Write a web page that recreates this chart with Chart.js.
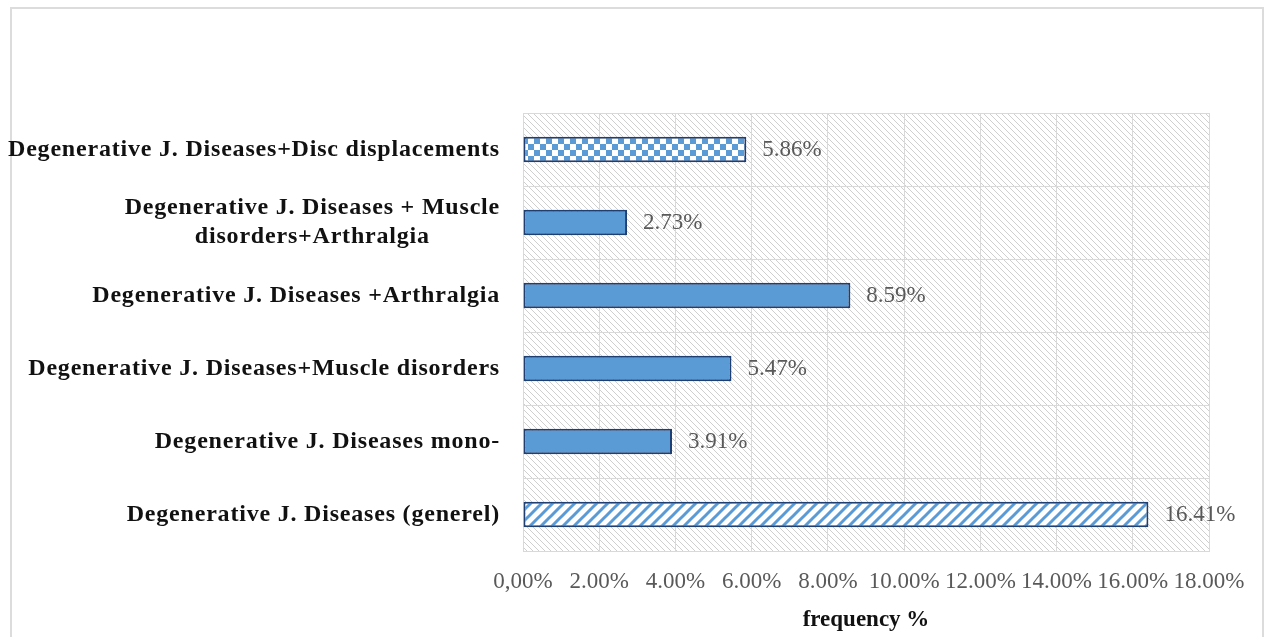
<!DOCTYPE html>
<html>
<head>
<meta charset="utf-8">
<script src="https://cdn.jsdelivr.net/npm/chart.js@4/dist/chart.umd.min.js"></script>
<style>
  html, body { margin: 0; padding: 0; background: #fff; }
  #wrap { width: 1267px; height: 637px; position: relative; }
</style>
</head>
<body>
<div id="wrap"><canvas id="c" width="1267" height="637"></canvas></div>
<script>
// Category labels (one entry per line of text)
const categories = [
  ['Degenerative J. Diseases+Disc displacements'],
  ['Degenerative J. Diseases + Muscle', 'disorders+Arthralgia'],
  ['Degenerative J. Diseases +Arthralgia'],
  ['Degenerative J. Diseases+Muscle disorders'],
  ['Degenerative J. Diseases mono-'],
  ['Degenerative J. Diseases (generel)']
];
// Frequency in percent
const frequencyValues = [5.86, 2.73, 8.59, 5.47, 3.91, 16.41];
const valueLabels = ['5.86%', '2.73%', '8.59%', '5.47%', '3.91%', '16.41%'];
// Fill kind per bar
const fillKinds = ['checker', 'solid', 'solid', 'solid', 'solid', 'stripes'];
// X axis tick labels
const tickLabels = ['0,00%', '2.00%', '4.00%', '6.00%', '8.00%', '10.00%', '12.00%', '14.00%', '16.00%', '18.00%'];
const axisTitle = 'frequency %';

const BLUE = '#5B9BD5';
const EDGE = '#1F3F73';
const GRID = '#d9d9d9';
const SERIF = "'Liberation Serif', 'Times New Roman', serif";

function makeTile(size, draw) {
  const c = document.createElement('canvas');
  c.width = c.height = size;
  draw(c.getContext('2d'), size);
  return c;
}

const canvas = document.getElementById('c');
const ctx = canvas.getContext('2d');

const checkerPattern = ctx.createPattern(makeTile(12, (g, s) => {
  g.fillStyle = '#fff'; g.fillRect(0, 0, s, s);
  g.fillStyle = BLUE; g.fillRect(0, 0, s / 2, s / 2); g.fillRect(s / 2, s / 2, s / 2, s / 2);
}), 'repeat');

const stripePattern = ctx.createPattern(makeTile(11, (g, s) => {
  g.fillStyle = '#fff'; g.fillRect(0, 0, s, s);
  g.strokeStyle = BLUE; g.lineWidth = 3;
  g.beginPath();
  g.moveTo(-3, s + 3); g.lineTo(s + 3, -3);
  g.moveTo(-3, 3); g.lineTo(3, -3);
  g.moveTo(s - 3, s + 3); g.lineTo(s + 3, s - 3);
  g.stroke();
}), 'repeat');

const hatchPattern = ctx.createPattern(makeTile(6, (g, s) => {
  g.fillStyle = '#fff'; g.fillRect(0, 0, s, s);
  g.strokeStyle = '#cfcfcf'; g.lineWidth = 1;
  g.beginPath();
  g.moveTo(-2, -2); g.lineTo(s + 2, s + 2);
  g.moveTo(-2, s - 2); g.lineTo(2, s + 2);
  g.moveTo(s - 2, -2); g.lineTo(s + 2, 2);
  g.stroke();
}), 'repeat');

const fills = fillKinds.map(k => k === 'checker' ? checkerPattern : k === 'stripes' ? stripePattern : BLUE);

// Frame around the figure and hatched plot background
const backgroundPlugin = {
  id: 'backgroundPlugin',
  beforeDraw(chart) {
    const c = chart.ctx, a = chart.chartArea;
    c.save();
    c.fillStyle = '#fff';
    c.fillRect(0, 0, chart.width, chart.height);
    c.strokeStyle = '#dcdcdc';
    c.lineWidth = 2;
    c.strokeRect(11, 8, 1252, 640);
    c.fillStyle = hatchPattern;
    c.fillRect(a.left, a.top, a.right - a.left, a.bottom - a.top);
    c.restore();
  }
};

// Category names left of the plot, value text after each bar
const textPlugin = {
  id: 'textPlugin',
  afterDatasetsDraw(chart) {
    const c = chart.ctx;
    const yScale = chart.scales.y;
    const meta = chart.getDatasetMeta(0);
    c.save();
    if ('letterSpacing' in c) c.letterSpacing = '0.8px';
    c.font = 'bold 24px ' + SERIF;
    c.fillStyle = '#111';
    c.textBaseline = 'middle';
    const rightX = 500;
    const lineH = 29;
    categories.forEach((lines, i) => {
      const yc = yScale.getPixelForValue(i);
      if (lines.length === 1) {
        c.textAlign = 'right';
        c.fillText(lines[0], rightX, yc);
      } else {
        const maxW = Math.max(...lines.map(l => c.measureText(l).width));
        const cx = rightX - maxW / 2;
        c.textAlign = 'center';
        lines.forEach((l, j) => {
          c.fillText(l, cx, yc + (j - (lines.length - 1) / 2) * lineH);
        });
      }
    });
    if ('letterSpacing' in c) c.letterSpacing = '0px';
    c.font = '23px ' + SERIF;
    c.fillStyle = '#595959';
    c.textAlign = 'left';
    meta.data.forEach((bar, i) => {
      c.fillText(valueLabels[i], bar.x + 16, bar.y);
    });
    c.restore();
  }
};

new Chart(canvas, {
  type: 'bar',
  data: {
    labels: categories.map(l => l.join(' ')),
    datasets: [{
      data: frequencyValues,
      backgroundColor: fills,
      borderColor: EDGE,
      borderWidth: 2,
      borderSkipped: false,
      barPercentage: 0.35,
      categoryPercentage: 1
    }]
  },
  options: {
    indexAxis: 'y',
    responsive: false,
    animation: false,
    devicePixelRatio: 1,
    layout: { padding: { top: 113, right: 58, left: 0, bottom: 0 } },
    plugins: { legend: { display: false }, tooltip: { enabled: false } },
    scales: {
      x: {
        min: 0, max: 18,
        ticks: {
          stepSize: 2,
          autoSkip: false,
          maxRotation: 0,
          padding: 17,
          color: '#595959',
          font: { family: SERIF, size: 23 },
          callback: (v, i) => tickLabels[i]
        },
        grid: { color: GRID, lineWidth: 1, drawTicks: false },
        border: { color: GRID, width: 1 },
        title: {
          display: true,
          text: axisTitle,
          color: '#111',
          font: { family: SERIF, size: 23, weight: 'bold' },
          padding: { top: 0, bottom: 3 }
        },
        afterFit: s => { s.height = 86; }
      },
      y: {
        ticks: { display: false },
        grid: { color: GRID, lineWidth: 1, drawTicks: false, offset: true },
        border: { color: GRID, width: 1 },
        afterFit: s => { s.width = 523; }
      }
    }
  },
  plugins: [backgroundPlugin, textPlugin]
});
</script>
</body>
</html>
